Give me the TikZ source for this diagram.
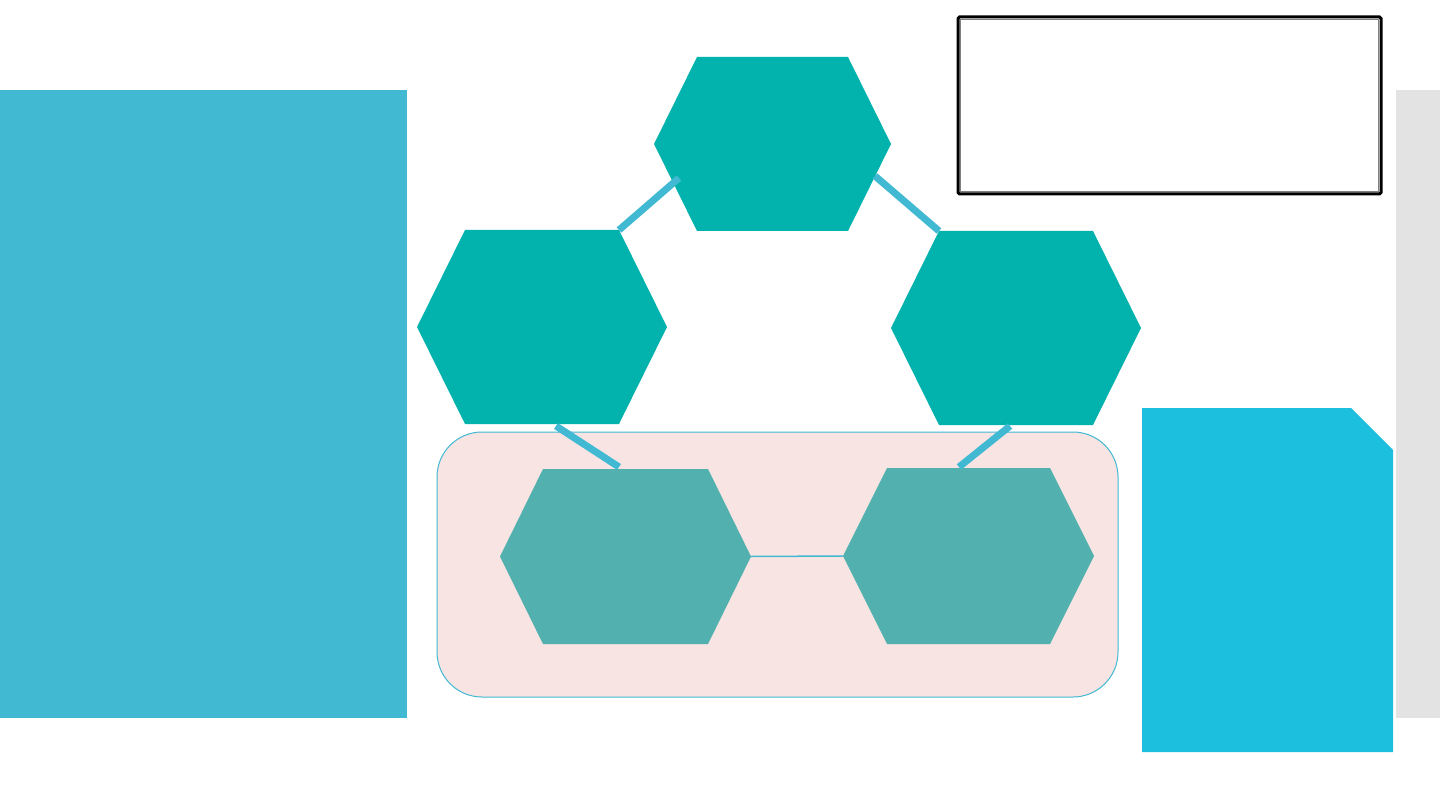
\documentclass[tikz,border=0pt]{standalone}
\usetikzlibrary{positioning,calc}
\definecolor{panelblue}{RGB}{65,185,210}
\definecolor{hexgreen}{RGB}{2,179,173}
\definecolor{hexsoft}{RGB}{82,177,174}
\definecolor{groupfill}{RGB}{247,228,227}
\definecolor{cardblue}{RGB}{28,191,222}
\definecolor{sidegrey}{RGB}{227,227,227}
% hexagon: style, name, cx, cy, half width, half flat, half height
\newcommand{\hexa}[7]{%
  \path[#1] (#3-#6,#4-#7) coordinate (#2-nw) -- (#3+#6,#4-#7) coordinate (#2-ne)
    -- (#3+#5,#4) coordinate (#2-e) -- (#3+#6,#4+#7) coordinate (#2-se)
    -- (#3-#6,#4+#7) coordinate (#2-sw) -- (#3-#5,#4) coordinate (#2-w) -- cycle;
  \coordinate (#2) at (#3,#4);}

\begin{document}
\begin{tikzpicture}[x=1pt,y=-1pt,
    hexa/.style={fill=hexgreen},
    soft/.style={fill=hexsoft},
    link/.style={draw=panelblue,line width=7pt}]
  \useasboundingbox (0,0) rectangle (1440,810);
  % side panels
  \fill[panelblue] (0,90) rectangle (407,718);
  \fill[sidegrey] (1396,90) rectangle (1440,718);
  % note box
  \node[draw=black,line width=3pt,rounded corners=1.5pt,minimum width=423pt,minimum height=177pt] (note) at (1169.5,105.5) {};
  \draw[gray,line width=1pt] ($(note.north west)+(4,4)$) rectangle ($(note.south east)+(-4,-4)$);
  % card
  \fill[cardblue] (1142,408) -- (1351,408) -- (1393,450) -- (1393,752) -- (1142,752) -- cycle;
  % group
  \node[draw=panelblue,fill=groupfill,line width=1pt,rounded corners=45pt,minimum width=681pt,minimum height=265pt] (group) at (777.5,564.5) {};
  % hexagons
  \hexa{hexa}{top}{772.5}{144}{118.5}{75.5}{87}
  \hexa{hexa}{left}{542}{327}{125}{77}{97}
  \hexa{hexa}{right}{1016}{328}{125}{77}{97}
  \hexa{soft}{bl}{625.5}{556.5}{125.5}{82.5}{87.5}
  \hexa{soft}{br}{968.5}{556}{125.5}{81.5}{88}
  % links
  \coordinate (top-in1) at (679,178);
  \coordinate (top-in2) at (875,176);
  \coordinate (left-out) at (556,426);
  \coordinate (bl-in) at (619,467);
  \coordinate (right-out) at (1010,426);
  \coordinate (br-in) at (959,467);
  \draw[link] (left-ne) -- (top-in1);
  \draw[link] (top-in2) -- (right-nw);
  \draw[link] (left-out) -- (bl-in);
  \draw[link] (right-out) -- (br-in);
  \draw[panelblue,line width=1.5pt] (bl-e) -- (br-w);
\end{tikzpicture}
\end{document}
